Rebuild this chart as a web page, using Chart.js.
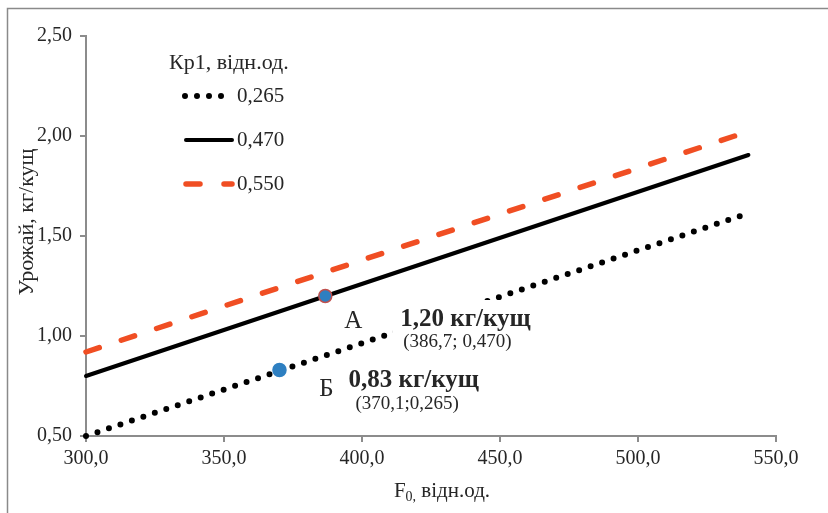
<!DOCTYPE html>
<html lang="uk">
<head>
  <meta charset="UTF-8">
  <title>Урожай від F0</title>
  <style>
    html, body { margin: 0; padding: 0; background: #fff; }
    #wrap { width: 828px; height: 513px; }
  </style>
  <script src="https://cdn.jsdelivr.net/npm/chart.js"></script>
</head>
<body>
  <div id="wrap"><canvas id="chart" width="828" height="513"></canvas></div>
  <script>
    // series: Kp1 values and the end points of each line (F0, yield)
    const seriesNames = ['0,265', '0,470', '0,550'];
    const lineF0 = [[300, 537], [300, 540], [300, 535]];
    const lineYield = [[0.50, 1.60], [0.80, 1.905], [0.92, 2.00]];
    const colors = ['#000000', '#000000', '#F04E23'];

    // marked points A and B
    const markNames = ['А', 'Б'];
    const markF0 = [386.7, 370.1];
    const markYield = [1.20, 0.83];
    const markValue = ['1,20 кг/кущ', '0,83 кг/кущ'];
    const markCoords = ['(386,7; 0,470)', '(370,1;0,265)'];

    const xTicks = [300, 350, 400, 450, 500, 550];
    const yTicks = [0.5, 1.0, 1.5, 2.0, 2.5];

    const SERIF = '"Liberation Serif", "DejaVu Serif", serif';
    const AXIS = '#8c8c8c';
    const TEXT = '#262626';

    const lineStyles = [
      { borderWidth: 6, borderDash: [0, 12.1], borderCapStyle: 'round' },
      { borderWidth: 4, borderDash: [], borderCapStyle: 'round' },
      { borderWidth: 5.5, borderDash: [14, 23.2], borderCapStyle: 'round' }
    ];

    const datasets = seriesNames.map((name, i) => ({
      label: name,
      data: lineF0[i].map((x, j) => ({ x: x, y: lineYield[i][j] })),
      showLine: true,
      pointRadius: 0,
      borderColor: colors[i],
      backgroundColor: colors[i],
      borderWidth: lineStyles[i].borderWidth,
      borderDash: lineStyles[i].borderDash,
      borderCapStyle: lineStyles[i].borderCapStyle,
      clip: false,
      order: 1
    }));

    datasets.push({
      label: 'points',
      data: markF0.map((x, i) => ({ x: x, y: markYield[i] })),
      showLine: false,
      pointRadius: 6.5,
      pointBackgroundColor: '#2E7FC1',
      pointBorderColor: ['#C0504D', '#2E7FC1'],
      pointBorderWidth: 1.5,
      clip: false,
      order: 0
    });

    // frame, legend, labels
    const extras = {
      id: 'extras',
      beforeDraw(chart) {
        const c = chart.ctx;
        c.save();
        c.fillStyle = '#fff';
        c.fillRect(0, 0, chart.width, chart.height);
        c.strokeStyle = '#8a8a8a';
        c.lineWidth = 1.5;
        c.strokeRect(7.5, 8.5, 840, 520);
        c.restore();
      },
      afterDatasetsDraw(chart) {
        const c = chart.ctx;
        const xs = chart.scales.x, ys = chart.scales.y;
        c.save();

        // white box behind label A
        const ax = xs.getPixelForValue(markF0[0]);
        const ay = ys.getPixelForValue(markYield[0]);
        c.fillStyle = '#fff';
        c.fillRect(ax + 67, ay + 4, 162, 54);

        c.fillStyle = TEXT;
        c.textBaseline = 'middle';
        const off = [
          { n: [28, 25], v: [75, 24], c: [78, 46] },
          { n: [47, 19], v: [69, 11], c: [76, 34] }
        ];
        markNames.forEach((n, i) => {
          const px = xs.getPixelForValue(markF0[i]);
          const py = ys.getPixelForValue(markYield[i]);
          const o = off[i];
          c.textAlign = 'center';
          c.font = '25px ' + SERIF;
          c.fillText(n, px + o.n[0], py + o.n[1]);
          c.textAlign = 'left';
          c.font = 'bold 25px ' + SERIF;
          c.fillText(markValue[i], px + o.v[0], py + o.v[1]);
          c.font = '19px ' + SERIF;
          c.fillText(markCoords[i], px + o.c[0], py + o.c[1]);
        });

        // legend
        c.textAlign = 'left';
        c.font = '22px ' + SERIF;
        c.fillText('Кр1, відн.од.', 169, 63);
        c.font = '21px ' + SERIF;
        const rowY = [96, 140, 184];
        seriesNames.forEach((name, i) => {
          c.save();
          c.strokeStyle = colors[i];
          c.lineWidth = lineStyles[i].borderWidth;
          c.lineCap = 'round';
          c.setLineDash(i === 0 ? [0, 12] : (i === 2 ? [14, 24] : []));
          c.beginPath();
          if (i === 0) { c.moveTo(185, rowY[i]); c.lineTo(224, rowY[i]); }
          else { c.moveTo(186, rowY[i]); c.lineTo(232, rowY[i]); }
          c.stroke();
          c.restore();
          c.fillStyle = TEXT;
          c.fillText(name, 237, rowY[i]);
        });

        // y axis title
        c.save();
        c.translate(27, 222);
        c.rotate(-Math.PI / 2);
        c.textAlign = 'center';
        c.font = '22px ' + SERIF;
        c.fillText('Урожай, кг/кущ', 0, 0);
        c.restore();

        // x axis title with subscript
        c.font = '21px ' + SERIF;
        c.textBaseline = 'alphabetic';
        const cx = (chart.chartArea.left + chart.chartArea.right) / 2 + 11;
        const base = 497;
        const wF = c.measureText('F').width;
        c.font = '14px ' + SERIF;
        const wSub = c.measureText('0,').width;
        c.font = '21px ' + SERIF;
        const wRest = c.measureText(' відн.од.').width;
        let x0 = cx - (wF + wSub + wRest) / 2;
        c.fillText('F', x0, base);
        c.font = '14px ' + SERIF;
        c.fillText('0,', x0 + wF, base + 4);
        c.font = '21px ' + SERIF;
        c.fillText(' відн.од.', x0 + wF + wSub, base);
        c.restore();
      }
    };

    new Chart(document.getElementById('chart'), {
      type: 'scatter',
      data: { datasets: datasets },
      plugins: [extras],
      options: {
        responsive: false,
        animation: false,
        layout: { padding: { left: 0, top: 36, right: 52, bottom: 0 } },
        plugins: { legend: { display: false }, tooltip: { enabled: false } },
        scales: {
          x: {
            type: 'linear',
            min: 300, max: 550,
            afterBuildTicks(s) { s.ticks = xTicks.map(v => ({ value: v })); },
            afterFit(s) { s.height = 77; },
            ticks: {
              color: TEXT,
              font: { family: SERIF, size: 20 },
              padding: 5,
              callback: v => v.toFixed(1).replace('.', ',')
            },
            grid: { drawOnChartArea: false, drawTicks: true, tickLength: 6, color: AXIS, lineWidth: 2 },
            border: { color: AXIS, width: 2 }
          },
          y: {
            type: 'linear',
            min: 0.5, max: 2.5,
            afterBuildTicks(s) { s.ticks = yTicks.map(v => ({ value: v })); },
            afterFit(s) { s.width = 86; },
            ticks: {
              color: TEXT,
              font: { family: SERIF, size: 20 },
              padding: 8,
              callback: v => v.toFixed(2).replace('.', ',')
            },
            grid: { drawOnChartArea: false, drawTicks: true, tickLength: 6, color: AXIS, lineWidth: 2 },
            border: { color: AXIS, width: 2 }
          }
        }
      }
    });
  </script>
</body>
</html>
